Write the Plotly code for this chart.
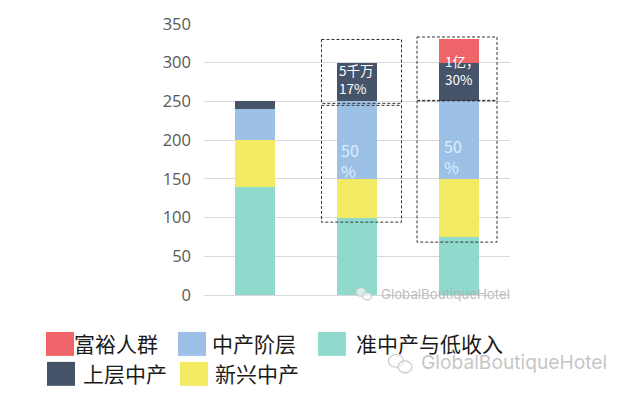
import plotly.graph_objects as go

W, H = 630, 396
L, R, T, B = 204, 510, 23.5, 295

categories = ["A", "B", "C"]
low_income = [140, 100, 75]
emerging = [60, 50, 75]
middle = [40, 100, 100]
upper_middle = [10, 50, 50]
affluent = [0, 0, 30]
y_ticks = [0, 50, 100, 150, 200, 250, 300, 350]

COL = dict(low="#8FDACC", em="#F2EA62", mid="#9CC0E6", up="#46546A", af="#EE6468")


def px(x):
    return (x - L) / (R - L)


def py(y):
    return (B - y) / (B - T)


fig = go.Figure()
for name, vals, c in [
    ("准中产与低收入", low_income, COL["low"]),
    ("新兴中产", emerging, COL["em"]),
    ("中产阶层", middle, COL["mid"]),
    ("上层中产", upper_middle, COL["up"]),
    ("富裕人群", affluent, COL["af"]),
]:
    fig.add_bar(x=categories, y=vals, name=name, marker=dict(color=c, line_width=0), showlegend=False)

shapes = []
for x0, y0, x1, y1 in [(321.5, 39, 401.5, 103), (321.5, 105, 401.5, 222), (417, 36.5, 497, 100), (417, 100.5, 497, 242)]:
    shapes.append(dict(type="rect", xref="paper", yref="paper", x0=px(x0), x1=px(x1), y0=py(y0), y1=py(y1),
                       line=dict(color="#333333", width=1, dash="3px,2px"), fillcolor="rgba(0,0,0,0)", layer="above"))

legend_items = [
    ("富裕人群", COL["af"], 46, 332, 72, 343),
    ("中产阶层", COL["mid"], 178, 332, 210, 343),
    ("准中产与低收入", COL["low"], 318, 332, 354, 343),
    ("上层中产", COL["up"], 47, 362, 81, 373),
    ("新兴中产", COL["em"], 180, 362, 213, 373),
]
ann = []
for text, c, sx, sy, tx, ty in legend_items:
    shapes.append(dict(type="rect", xref="paper", yref="paper", x0=px(sx), x1=px(sx + 28), y0=py(sy), y1=py(sy + 24),
                       fillcolor=c, line_width=0))
    ann.append(dict(text=text, x=px(tx), y=py(ty), xref="paper", yref="paper", xanchor="left", yanchor="middle",
                    showarrow=False, font=dict(family="Noto Sans CJK SC", size=21, color="#1a1a1a")))

for text, x, y, size, col in [
    ("5千万<br>17%", 337, 79, 13.5, "#ffffff"),
    ("50<br>%", 339, 160, 16, "#ddeeff"),
    ("1亿，<br>30%", 443, 70, 13.5, "#ffffff"),
    ("50<br>%", 442, 156, 16, "#ddeeff"),
]:
    ann.append(dict(text=text, x=px(x), y=py(y), xref="paper", yref="paper", xanchor="left", yanchor="middle",
                    align="left", showarrow=False, font=dict(family="Noto Sans CJK SC", size=size, color=col)))

# watermark
ann.append(dict(text="GlobalBoutiqueHotel", x=px(379), y=py(294), xref="paper", yref="paper", xanchor="left",
                yanchor="middle", showarrow=False, font=dict(family="Inter", size=13.3, color="rgba(175,175,175,0.85)")))
ann.append(dict(text="GlobalBoutiqueHotel", x=px(419), y=py(362), xref="paper", yref="paper", xanchor="left",
                yanchor="middle", showarrow=False, font=dict(family="Inter", size=19.2, color="rgba(190,190,190,0.9)")))
for cx, cy, r in [(361, 292, 5), (367, 296, 4.5), (396, 361, 7.5), (405, 367, 7)]:
    shapes.append(dict(type="circle", xref="paper", yref="paper", x0=px(cx - r), x1=px(cx + r), y0=py(cy - r * 0.85),
                       y1=py(cy + r * 0.85), line=dict(color="rgba(195,195,195,0.9)", width=1.2),
                       fillcolor="rgba(255,255,255,0.6)", layer="above"))

fig.update_layout(
    width=W, height=H, autosize=False, barmode="stack", bargap=0.6,
    margin=dict(l=L, r=W - R, t=T, b=H - B, pad=0),
    paper_bgcolor="white", plot_bgcolor="white",
    shapes=shapes, annotations=ann,
    xaxis=dict(range=[-0.5, 2.5], showticklabels=False, ticks="", showgrid=False, zeroline=False,
               showline=True, linecolor="#d9d9d9", linewidth=1),
    yaxis=dict(range=[0, 350], tickvals=y_ticks, showgrid=True, gridcolor="#d9d9d9", gridwidth=1, zeroline=False,
               showline=False, ticks="", ticklabelstandoff=12,
               tickfont=dict(family="Open Sans", size=16.5, color="#595959")),
)
fig.write_html("out.html", config=dict(displayModeBar=False),
               post_script="document.body.style.margin='0';document.documentElement.style.overflow='hidden';")
